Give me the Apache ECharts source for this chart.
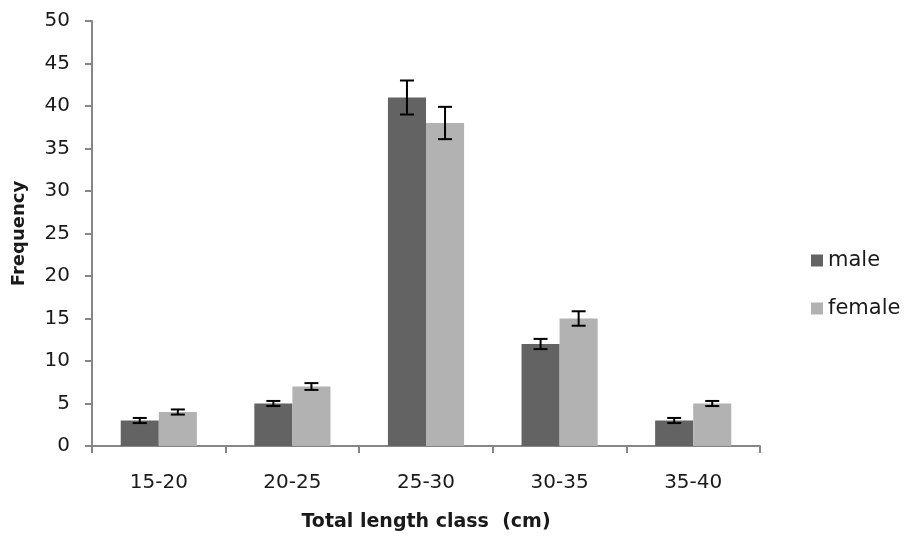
<!DOCTYPE html>
<html><head><meta charset="utf-8">
<script src="https://cdn.jsdelivr.net/npm/echarts@6/dist/echarts.min.js"></script>
<style>html,body{margin:0;padding:0;background:#fff}#c{width:906px;height:538px}</style>
</head><body><div id="c"></div>
<script>
const categories = ['15-20','20-25','25-30','30-35','35-40'];
const maleValues = [3, 5, 41, 12, 3];
const maleErrors = [0.3, 0.3, 2, 0.6, 0.3];
const femaleValues = [4, 7, 38, 15, 5];
const femaleErrors = [0.3, 0.4, 1.9, 0.85, 0.3];
const yTicks = [0, 5, 10, 15, 20, 25, 30, 35, 40, 45, 50];

const GAP = 0.43;
const FONT = 'DejaVu Sans';
const textColor = '#1a1a1a';

function errData(vals, errs){ return vals.map((v,i)=>[i, v-errs[i], v+errs[i]]); }
function errSeries(name, vals, errs, side){
  return {
    type:'custom', name: name+'_err', silent:true, z:10,
    data: errData(vals, errs),
    encode:{x:0, y:[1,2]},
    renderItem:function(params, api){
      const band = api.size([1,0])[0];
      const bw = band*(1-GAP)/2;
      const off = side*bw/2;
      const lo = api.coord([api.value(0), api.value(1)]);
      const hi = api.coord([api.value(0), api.value(2)]);
      const x = lo[0]+off, cw = 7;
      const st = {stroke:'#000', lineWidth:2};
      return {type:'group', children:[
        {type:'line', shape:{x1:x,y1:lo[1],x2:x,y2:hi[1]}, style:st},
        {type:'line', shape:{x1:x-cw,y1:lo[1],x2:x+cw,y2:lo[1]}, style:st},
        {type:'line', shape:{x1:x-cw,y1:hi[1],x2:x+cw,y2:hi[1]}, style:st}
      ]};
    }
  };
}

const chart = echarts.init(document.getElementById('c'));
chart.setOption({
  animation:false,
  grid:{left:92, right:146, top:21, bottom:92, containLabel:false, outerBoundsMode:'none'},
  legend:{
    data:['male','female'], orient:'vertical', left:806, top:245,
    itemWidth:12, itemHeight:12, itemGap:27, icon:'rect',
    textStyle:{fontFamily:FONT, fontSize:21, color:textColor}
  },
  xAxis:{
    type:'category', data:categories,
    name:'Total length class  (cm)', nameLocation:'middle', nameGap:67,
    nameTextStyle:{fontFamily:FONT, fontSize:19, fontWeight:'bold', color:textColor},
    axisLine:{lineStyle:{color:'#868686', width:2}},
    axisTick:{show:true, length:7, lineStyle:{color:'#868686', width:2}},
    axisLabel:{fontFamily:FONT, fontSize:20, color:textColor, margin:27}
  },
  yAxis:{
    type:'value', min:0, max:50, interval:5,
    name:'Frequency', nameLocation:'middle', nameGap:64, nameRotate:90,
    nameTextStyle:{fontFamily:FONT, fontSize:18, fontWeight:'bold', color:textColor},
    axisLine:{show:true, lineStyle:{color:'#868686', width:2}},
    axisTick:{show:true, length:7, lineStyle:{color:'#868686', width:2}},
    splitLine:{show:false},
    axisLabel:{fontFamily:FONT, fontSize:20, color:textColor, margin:22,
      formatter:v=> yTicks.includes(v)? String(v):''}
  },
  series:[
    {name:'male', type:'bar', data:maleValues, barGap:'0%', barCategoryGap:(GAP*100)+'%',
     itemStyle:{color:'#636363'}},
    {name:'female', type:'bar', data:femaleValues, barGap:'0%', barCategoryGap:(GAP*100)+'%',
     itemStyle:{color:'#b2b2b2'}},
    errSeries('male', maleValues, maleErrors, -1),
    errSeries('female', femaleValues, femaleErrors, 1)
  ]
});
</script></body></html>
